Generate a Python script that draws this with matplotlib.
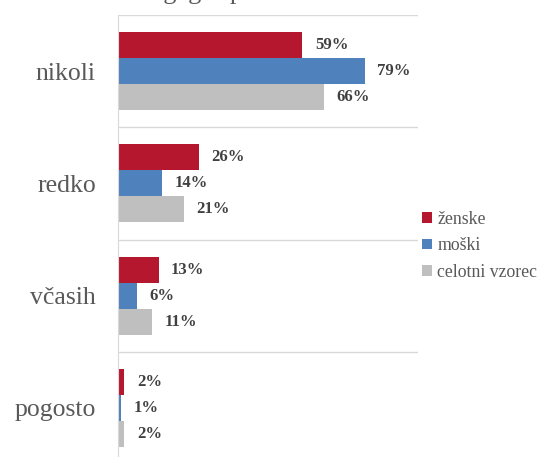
import numpy as np
import matplotlib.pyplot as plt

# Kategorije in deleži (v %)
categories = ['nikoli', 'redko', 'včasih', 'pogosto']
zenske = [59, 26, 13, 2]
moski = [79, 14, 6, 1]
celotni = [66, 21, 11, 2]
series_names = ['ženske', 'moški', 'celotni vzorec']
colors = ['#B5172F', '#4F81BD', '#BFBFBF']

plt.rcParams['font.family'] = ['Liberation Serif', 'DejaVu Serif']

fig = plt.figure(figsize=(5.4, 4.57), dpi=100)
ax = fig.add_axes([118 / 540, 1 - 464 / 457, 300 / 540, 449 / 457])

y = np.arange(len(categories))
h = 0.232
for i, (vals, name, c) in enumerate(zip([zenske, moski, celotni], series_names, colors)):
    pos = y + (i - 1) * h
    ax.barh(pos, vals, height=h, color=c, label=name)
    for p, v in zip(pos, vals):
        ax.text(v + 4, p, f'{v}%', va='center', ha='left', fontsize=12,
                fontweight='bold', color='#404040')

ax.set_xlim(0, 96)
ax.set_ylim(len(categories) - 0.5, -0.5)
ax.set_yticks(y)
ax.set_yticklabels(categories, fontsize=18.5, color='#595959')
ax.tick_params(axis='y', length=0, pad=16)
ax.set_xticks([])

# horizontalne ločilne črte med kategorijami
for b in np.arange(-0.5, len(categories), 1):
    ax.axhline(b, color='#D9D9D9', lw=1, zorder=0)

for s in ['top', 'right', 'bottom']:
    ax.spines[s].set_visible(False)
ax.spines['left'].set_color('#D9D9D9')

leg = fig.legend(loc='upper left', bbox_to_anchor=(415 / 540, 1 - 204 / 457),
                 frameon=False, fontsize=12.8, handlelength=0.55, handleheight=0.55,
                 handletextpad=0.3, labelspacing=0.52, borderaxespad=0)
for t in leg.get_texts():
    t.set_color('#595959')

# odrezan naslov na vrhu
fig.text(128 / 540, 1 + 0.5 / 457, 'drugega spola.', fontsize=19, color='#595959',
         ha='left', va='baseline')

plt.savefig('out.png', dpi=100)
